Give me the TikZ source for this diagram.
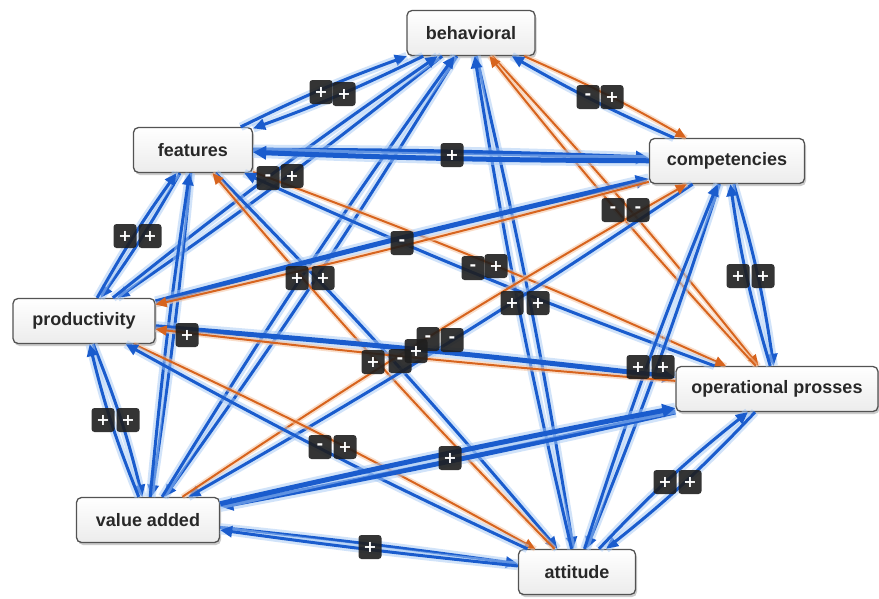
\documentclass[tikz,border=0pt]{standalone}
\usepackage{fontspec}
\setmainfont{Liberation Sans}
\newfontfamily\symfont{DejaVu Sans}
\usetikzlibrary{arrows.meta,shadows,calc}
\definecolor{bl}{RGB}{26,92,205}
\definecolor{blg}{RGB}{165,200,245}
\definecolor{orc}{RGB}{215,100,30}
\definecolor{org}{RGB}{245,195,160}
\definecolor{txt}{RGB}{40,40,40}
\begin{document}
\begin{tikzpicture}[x=1pt,y=-1pt,
 concept/.style={draw=gray!65!black, line width=1.3pt, rounded corners=5pt,
   top color=white, bottom color=gray!15,
   drop shadow={shadow xshift=1.5pt,shadow yshift=-2.5pt,opacity=0.4},
   minimum height=45pt, inner sep=0pt,
   font=\fontsize{18}{21}\selectfont\bfseries, text=txt},
 posedge/.style={draw=bl, line width=3pt, -{Triangle[length=12pt,width=11pt]},
   preaction={draw=blg, line width=8.5pt, -, opacity=0.5}},
 thickedge/.style={draw=bl, line width=5pt, -{Triangle[length=13pt,width=13pt]},
   preaction={draw=blg, line width=11pt, -, opacity=0.5}},
 negedge/.style={draw=orc, line width=2pt, -{Triangle[length=11pt,width=10pt]},
   preaction={draw=org, line width=5.5pt, -, opacity=0.55}},
 sg/.style={fill=black!88, fill opacity=0.9, text opacity=1, text=white,
   rounded corners=3pt, minimum width=23pt, minimum height=24pt, inner sep=0pt,
   font=\symfont\bfseries\fontsize{16}{16}\selectfont}
]
\useasboundingbox[fill=white] (0,0) rectangle (879,598);

% concepts
\node[concept, minimum width=128pt] (B) at (471,33) {behavioral};
\node[concept, minimum width=119pt] (F) at (193,150) {features};
\node[concept, minimum width=155pt] (C) at (727,161) {competencies};
\node[concept, minimum width=142pt] (P) at (84,321) {productivity};
\node[concept, minimum width=202pt] (O) at (777,389) {operational prosses};
\node[concept, minimum width=143pt] (V) at (148,520) {value added};
\node[concept, minimum width=117pt] (A) at (577,572) {attitude};

% connectors
\draw[posedge] (F) to[bend left=3] (B);
\draw[posedge] (B) to[bend left=3] (F);
\draw[negedge] (B) to[bend left=3] (C);
\draw[posedge] (C) to[bend left=3] (B);
\draw[posedge] (B) to[bend left=2] (P);
\draw[posedge] (P) to[bend left=2] (B);
\draw[negedge] (B) to[bend left=2] (O);
\draw[negedge] (O) to[bend left=2] (B);
\draw[posedge] (B) to[bend left=2] (V);
\draw[posedge] (V) to[bend left=2] (B);
\draw[posedge] (B) to[bend left=2] (A);
\draw[posedge] (A) to[bend left=2] (B);
\draw[thickedge] (F) to[bend left=1] (C);
\draw[thickedge] (C) to[bend left=1] (F);
\draw[posedge] (F) to[bend left=3] (P);
\draw[posedge] (P) to[bend left=3] (F);
\draw[negedge] (F) to[bend left=2] (O);
\draw[posedge] (O) to[bend left=2] (F);
\draw[posedge] (F) to[bend left=1.5] (V);
\draw[posedge] (V) to[bend left=1.5] (F);
\draw[posedge] (F) to[bend left=2] (A);
\draw[negedge] (A) to[bend left=2] (F);
\draw[thickedge] (P) to[bend left=1] (C);
\draw[negedge] (C) to[bend left=1] (P);
\draw[posedge] (C) to[bend left=4] (O);
\draw[posedge] (O) to[bend left=4] (C);
\draw[posedge] (C) to[bend left=2] (V);
\draw[negedge] (V) to[bend left=2] (C);
\draw[posedge] (C) to[bend left=2] (A);
\draw[posedge] (A) to[bend left=2] (C);
\draw[thickedge] (P) to[bend left=1] (O);
\draw[negedge] (O) to[bend left=1] (P);
\draw[posedge] (P) to[bend left=4] (V);
\draw[posedge] (V) to[bend left=4] (P);
\draw[negedge] (P) to[bend left=2] (A);
\draw[posedge] (A) to[bend left=2] (P);
\draw[thickedge] (O) to[bend left=1] (V);
\draw[thickedge] (V) to[bend left=1] (O);
\draw[posedge] (O) to[bend left=4] (A);
\draw[posedge] (A) to[bend left=4] (O);
\draw[posedge] (V) to[bend left=1] (A);
\draw[posedge] (A) to[bend left=1] (V);

% sign labels
\node[sg] (bf1) at (321,92) {+};
\node[sg] (bf2) at (344,94) {+};
\node[sg] (bc1) at (588,97) {-};
\node[sg] (bc2) at (612,97) {+};
\node[sg] (bp1) at (268,178) {-};
\node[sg] (bp2) at (292,176) {+};
\node[sg] (bo1) at (613,210) {-};
\node[sg] (bo2) at (638,210) {-};
\node[sg] (bv1) at (297,278) {+};
\node[sg] (bv2) at (323,278) {+};
\node[sg] (ba1) at (512,303) {+};
\node[sg] (ba2) at (538,303) {+};
\node[sg] (fc1) at (452,155) {+};
\node[sg] (fp1) at (125,236) {+};
\node[sg] (fp2) at (150,236) {+};
\node[sg] (fo1) at (473,268) {-};
\node[sg] (fo2) at (496,266) {+};
\node[sg] (fv1) at (187,335) {+};
\node[sg] (cp1) at (402,243) {-};
\node[sg] (cv1) at (428,339) {-};
\node[sg] (cv2) at (452,340) {-};
\node[sg] (fa1) at (373,362) {+};
\node[sg] (po1) at (400,361) {-};
\node[sg] (po2) at (416,351) {+};
\node[sg] (co1) at (738,276) {+};
\node[sg] (co2) at (763,276) {+};
\node[sg] (ca1) at (638,367) {+};
\node[sg] (ca2) at (663,367) {+};
\node[sg] (pv1) at (103,420) {+};
\node[sg] (pv2) at (128,420) {+};
\node[sg] (pa1) at (320,447) {-};
\node[sg] (pa2) at (345,447) {+};
\node[sg] (ov1) at (450,458) {+};
\node[sg] (oa1) at (665,482) {+};
\node[sg] (oa2) at (690,482) {+};
\node[sg] (va1) at (370,547) {+};
\end{tikzpicture}
\end{document}
